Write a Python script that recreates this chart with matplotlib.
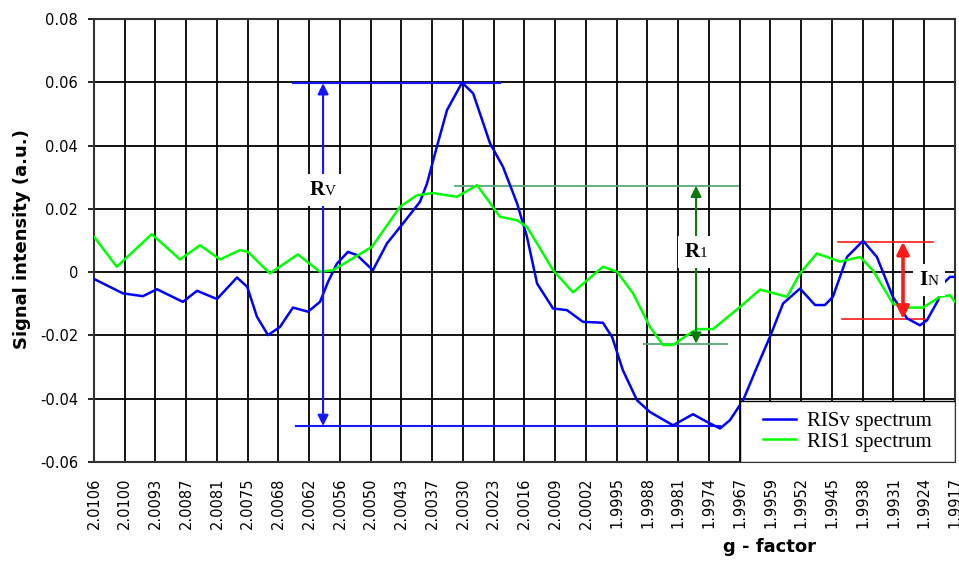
import matplotlib
matplotlib.use('Agg')
import matplotlib.pyplot as plt
from matplotlib.patches import Rectangle
from matplotlib.offsetbox import TextArea, HPacker, AnnotationBbox

# g-factor category labels (one per vertical grid line)
g_labels = ['2.0106', '2.0100', '2.0093', '2.0087', '2.0081', '2.0075', '2.0068',
            '2.0062', '2.0056', '2.0050', '2.0043', '2.0037', '2.0030', '2.0023',
            '2.0016', '2.0009', '2.0002', '1.9995', '1.9988', '1.9981', '1.9974',
            '1.9967', '1.9959', '1.9952', '1.9945', '1.9938', '1.9931', '1.9924',
            '1.9917']
y_ticks = [-0.06, -0.04, -0.02, 0.0, 0.02, 0.04, 0.06, 0.08]
y_tick_labels = ['-0.06', '-0.04', '-0.02', '0', '0.02', '0.04', '0.06', '0.08']

# RISv spectrum (position along the g-factor categories, signal)
risv_x = [0.03, 0.94, 1.59, 2.05, 2.89, 3.35, 4.0, 4.65, 4.98, 5.30, 5.66, 6.05,
          6.47, 6.96, 7.35, 7.61, 7.90, 8.26, 8.55, 9.07, 9.53, 10.05, 10.60,
          10.83, 11.15, 11.48, 11.97, 12.33, 12.88, 13.30, 13.76, 14.08, 14.41,
          14.93, 15.38, 15.90, 16.55, 16.85, 17.20, 17.66, 18.08, 18.83, 19.48,
          19.93, 20.36, 20.68, 21.11, 21.56, 21.98, 22.41, 22.96, 23.45, 23.77,
          24.03, 24.49, 25.01, 25.46, 25.98, 26.44, 26.86, 27.09, 27.45, 27.61,
          27.84, 28.0]
risv_y = [-0.0023, -0.0067, -0.0076, -0.0054, -0.0094, -0.0059, -0.0085, -0.0017,
          -0.0046, -0.0141, -0.0199, -0.0173, -0.0112, -0.0125, -0.0094, -0.0031,
          0.0027, 0.0064, 0.0054, 0.0006, 0.0091, 0.0154, 0.0222, 0.028, 0.0396,
          0.0512, 0.0599, 0.0565, 0.0407, 0.0333, 0.0217, 0.0112, -0.0036, -0.0115,
          -0.012, -0.0157, -0.016, -0.0205, -0.031, -0.0405, -0.0442, -0.0484,
          -0.0449, -0.0473, -0.0494, -0.0468, -0.0405, -0.030, -0.0205, -0.0099,
          -0.0052, -0.0104, -0.0104, -0.0078, 0.0048, 0.0099, 0.0048, -0.0078,
          -0.0146, -0.0168, -0.0152, -0.0089, -0.0036, -0.0015, -0.0015]

# RIS1 spectrum
ris1_x = [0.0, 0.74, 1.88, 2.80, 3.45, 4.10, 4.75, 5.01, 5.72, 6.63, 7.35, 7.77,
          9.04, 9.95, 10.50, 11.02, 11.80, 12.46, 13.20, 13.76, 14.08, 14.50,
          14.93, 15.58, 16.55, 17.01, 17.53, 18.08, 18.50, 18.83, 19.28, 19.61,
          20.13, 21.01, 21.66, 22.54, 22.96, 23.51, 24.26, 24.91, 25.33, 25.98,
          26.31, 26.96, 27.51, 27.84, 28.0]
ris1_y = [0.0112, 0.0017, 0.012, 0.004, 0.0085, 0.004, 0.007, 0.0064, -0.0004,
          0.0056, 0.0001, 0.0006, 0.008, 0.0206, 0.0243, 0.025, 0.0238, 0.0275,
          0.0175, 0.0164, 0.0143, 0.0076, 0.0006, -0.0064, 0.0017, 0.0001, -0.0067,
          -0.0173, -0.023, -0.023, -0.020, -0.018, -0.018, -0.011, -0.0055,
          -0.0078, -0.0004, 0.0059, 0.0033, 0.0048, 0.0006, -0.0099, -0.0112,
          -0.0112, -0.0078, -0.0073, -0.0094]

# range markers: (x of arrow, top level, bottom level, top line span, bottom line span)
rv_x, rv_top, rv_bottom = 7.45, 0.0597, -0.0486
rv_top_span, rv_bottom_span = (6.47, 13.2), (6.57, 20.36)
r1_x, r1_top, r1_bottom = 19.58, 0.0273, -0.0226
r1_top_span, r1_bottom_span = (11.74, 20.94), (17.89, 20.59)
in_x, in_top, in_bottom = 26.31, 0.0096, -0.0148
in_top_span, in_bottom_span = (24.2, 27.28), (24.33, 27.02)

fig = plt.figure(figsize=(9.59, 5.65), dpi=100)
ax = fig.add_axes([0.098, 0.1823, 0.8978, 0.7841])

pos = list(range(len(g_labels)))
ax.set_xlim(0, len(g_labels) - 1)
ax.set_ylim(-0.06, 0.08)
ax.set_xticks(pos)
ax.set_xticklabels(g_labels, rotation=90, fontsize=10.5, family='DejaVu Sans')
ax.set_yticks(y_ticks)
ax.set_yticklabels(y_tick_labels, fontsize=10.5, family='DejaVu Sans')
ax.tick_params(axis='x', length=0, pad=11)
ax.tick_params(axis='y', length=4.5, width=1.2, pad=7)
ax.grid(True, color='black', linewidth=1.3, zorder=1)
ax.set_axisbelow(True)
for s in ax.spines.values():
    s.set_linewidth(1.5)
    s.set_color('#333333')

ax.plot(risv_x, risv_y, color='#0000ff', lw=1.8, label='RISv spectrum', zorder=3)
ax.plot(ris1_x, ris1_y, color='#00ff00', lw=1.8, label='RIS1 spectrum', zorder=3)


def range_marker(x, top, bottom, top_span, bottom_span, line_c, arrow_c, line_w, arrow_w, ms):
    ax.plot(top_span, [top, top], color=line_c, lw=line_w, zorder=2.5)
    ax.plot(bottom_span, [bottom, bottom], color=line_c, lw=line_w, zorder=2.5)
    ax.annotate('', xy=(x, top), xytext=(x, bottom),
                arrowprops=dict(arrowstyle='<|-|>', color=arrow_c, lw=arrow_w,
                                mutation_scale=ms, shrinkA=0, shrinkB=0), zorder=4)


def range_label(x, y, big, small):
    tp = dict(family='Liberation Serif', fontweight='bold', color='black')
    box = HPacker(children=[TextArea(big, textprops=dict(tp, fontsize=15)),
                            TextArea(small, textprops=dict(tp, fontsize=11, fontweight='normal'))],
                  align='baseline', pad=0, sep=0)
    ab = AnnotationBbox(box, (x, y), frameon=True, pad=0.45,
                        bboxprops=dict(fc='white', ec='none'), zorder=5)
    ax.add_artist(ab)


range_marker(rv_x, rv_top, rv_bottom, rv_top_span, rv_bottom_span,
             '#1515ff', '#1515ff', 1.5, 1.5, 16)
range_marker(r1_x, r1_top, r1_bottom, r1_top_span, r1_bottom_span,
             '#5aa878', '#0a7a0a', 1.3, 1.5, 16)
range_marker(in_x, in_top, in_bottom, in_top_span, in_bottom_span,
             '#ff1a1a', '#ff1a1a', 1.2, 2.6, 18)

range_label(rv_x, 0.026, 'R', 'V')
range_label(r1_x, 0.0063, 'R', '1')
range_label(27.15, -0.0025, 'I', 'N')

# legend box in the lower right corner
ax.add_patch(Rectangle((0.75, 0.0), 0.25, 0.138, transform=ax.transAxes,
                       fc='white', ec='black', lw=1.0, zorder=5.5))
leg = ax.legend(loc='center', bbox_to_anchor=(0.875, 0.069), frameon=False,
                prop=dict(family='Liberation Serif', size=15), handlelength=1.6,
                handletextpad=0.5, labelspacing=0.05, borderpad=0.1)
leg.set_zorder(6)

fig.text(0.023, 0.577, 'Signal intensity (a.u.)', rotation=90, ha='center', va='center',
         fontsize=13, fontweight='bold', family='DejaVu Sans')
fig.text(0.802, 0.032, 'g - factor', ha='center', va='center',
         fontsize=13, fontweight='bold', family='DejaVu Sans')

fig.savefig('out.png', dpi=100)
